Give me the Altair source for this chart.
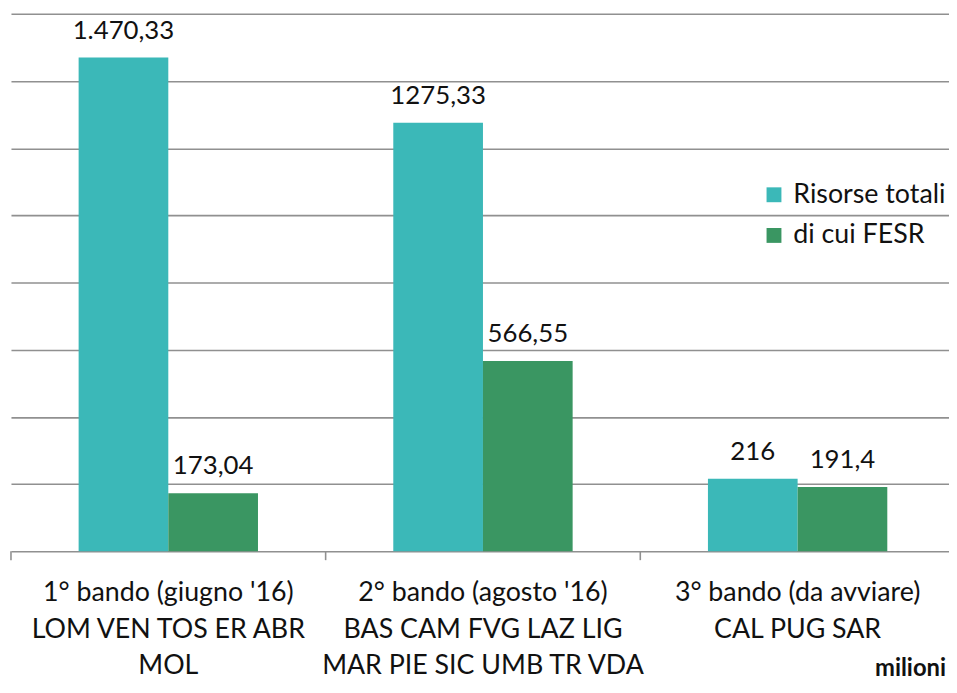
import altair as alt
import pandas as pd

categories = [
    "1° bando (giugno '16)|LOM VEN TOS ER ABR|MOL",
    "2° bando (agosto '16)|BAS CAM FVG LAZ LIG|MAR PIE SIC UMB TR VDA",
    "3° bando (da avviare)|CAL PUG SAR",
]
series = ["Risorse totali", "di cui FESR"]
totali = [1470.33, 1275.33, 216]
fesr = [173.04, 566.55, 191.4]
label_totali = ["1.470,33", "1275,33", "216"]
label_fesr = ["173,04", "566,55", "191,4"]
grid_values = [0, 200, 400, 600, 800, 1000, 1200, 1400, 1600]
unit = "milioni"
colors = ["#3BB8B8", "#3A9662"]

rows = []
for i, c in enumerate(categories):
    rows.append({"cat": c, "series": series[0], "value": totali[i], "label": label_totali[i]})
    rows.append({"cat": c, "series": series[1], "value": fesr[i], "label": label_fesr[i]})
df = pd.DataFrame(rows)
cat_df = pd.DataFrame({"cat": categories})
unit_df = pd.DataFrame({"t": [unit]})

FONT = "Lato"
W, H = 946, 542
STEP = 952 / 3
PI = 0.43

xscale = alt.Scale(domain=categories, range=[0, 952], paddingInner=PI, paddingOuter=PI / 2)
x_enc = alt.X(
    "cat:N",
    sort=categories,
    scale=xscale,
    title=None,
    axis=alt.Axis(
        labelExpr="split(datum.label, '|')",
        labelAngle=0,
        labelFont=FONT,
        labelFontSize=27,
        labelLineHeight=36.5,
        labelColor="#111111",
        labelPadding=29,
        labelLimit=400,
        labelOverlap=False,
        ticks=False,
        domain=False,
        grid=False,
    ),
)
xoff = alt.XOffset("series:N", sort=series, scale=alt.Scale(paddingInner=0, paddingOuter=0))
y_enc = alt.Y(
    "value:Q",
    scale=alt.Scale(domain=[0, 1600], nice=False),
    title=None,
    axis=alt.Axis(
        values=grid_values,
        labels=False,
        ticks=False,
        domain=False,
        grid=True,
        gridColor="#909090",
        gridWidth=1.6,
    ),
)

bars = alt.Chart(df).mark_bar().encode(
    x=x_enc,
    xOffset=xoff,
    y=y_enc,
    color=alt.Color(
        "series:N",
        sort=series,
        scale=alt.Scale(domain=series, range=colors),
        legend=alt.Legend(
            title=None,
            orient="none",
            legendX=756,
            legendY=169,
            symbolType="square",
            symbolSize=225,
            symbolStrokeWidth=0,
            labelFont=FONT,
            labelFontSize=27,
            labelColor="#111111",
            labelOffset=6,
            rowPadding=13,
        ),
    ),
)

texts = alt.Chart(df).mark_text(
    font=FONT, fontSize=26, color="#111111", baseline="alphabetic", dy=-19
).encode(x=alt.X("cat:N", sort=categories, scale=xscale), xOffset=xoff, y=alt.Y("value:Q"), text="label:N")

ticks = alt.Chart(cat_df).mark_rule(color="#909090", strokeWidth=1.6).encode(
    x=alt.X("cat:N", sort=categories, scale=xscale, bandPosition=0),
    xOffset=alt.value(-STEP * PI / 2),
    y=alt.value(H),
    y2=alt.value(H + 9),
)

unit_text = alt.Chart(unit_df).mark_text(
    font=FONT, fontSize=24, fontWeight="bold", color="#111111", align="right", baseline="alphabetic"
).encode(x=alt.value(943), y=alt.value(H + 126), text="t:N")

chart = (
    alt.layer(bars, texts, ticks, unit_text)
    .properties(
        width=W,
        height=H,
        autosize=alt.AutoSizeParams(type="none"),
        padding={"left": 3, "top": 3, "right": 0, "bottom": 130},
        background="white",
    )
    .configure_view(strokeWidth=0)
)

chart.save("out.html", embed_options={"renderer": "svg", "actions": False})
